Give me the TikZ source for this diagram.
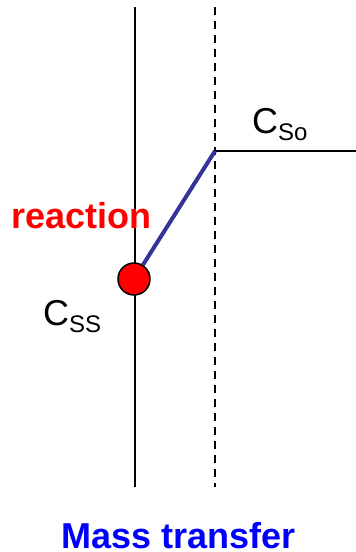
\documentclass[tikz,border=0pt]{standalone}
\usepackage{fontspec}
\setmainfont{Liberation Sans}
\usepackage{xcolor}
\usetikzlibrary{positioning}
\definecolor{profileblue}{RGB}{51,51,153}

\newcommand{\subtxt}[1]{\raisebox{-7pt}{\fontsize{24}{28}\selectfont #1}}

\begin{document}
\begin{tikzpicture}[x=1pt,y=-1pt,line join=round,
  lbl/.style={font=\fontsize{36}{43}\selectfont,anchor=base west,inner sep=0pt},
  boldlbl/.style={lbl,font=\fontsize{36}{43}\selectfont\bfseries}]

  \useasboundingbox (0,0) rectangle (356,552);

  % ===== surface (solid) and film edge (dashed) =====
  \coordinate (walltop) at (135,7);
  \coordinate (wallbot) at (135,487);
  \coordinate (filmtop) at (215,7);
  \coordinate (filmbot) at (215,487);
  \draw[black,line width=2pt] (walltop) -- (wallbot);
  \draw[black,line width=1.6pt,dash pattern=on 8pt off 6pt] (filmtop) -- (filmbot);

  % ===== bulk concentration =====
  \coordinate (edge) at (215,151);
  \coordinate (bulk) at (356,151);
  \draw[black,line width=2pt] (edge) -- (bulk);

  % ===== concentration profile in the film =====
  \node[circle,draw=black,fill=red,line width=1.5pt,minimum size=32pt,inner sep=0pt]
    (surf) at (134,279) {};
  \draw[profileblue,line width=4pt] (edge) -- (surf);

  % ===== labels =====
  \node[lbl] (cso) at (252,133) {C\subtxt{So}};
  \node[lbl] (css) at (43,325) {C\subtxt{SS}};
  \node[boldlbl,red] (react) at (11,228) {reaction};
  \node[boldlbl,blue,anchor=base] (mt) at (179,548) {Mass transfer};

\end{tikzpicture}
\end{document}
